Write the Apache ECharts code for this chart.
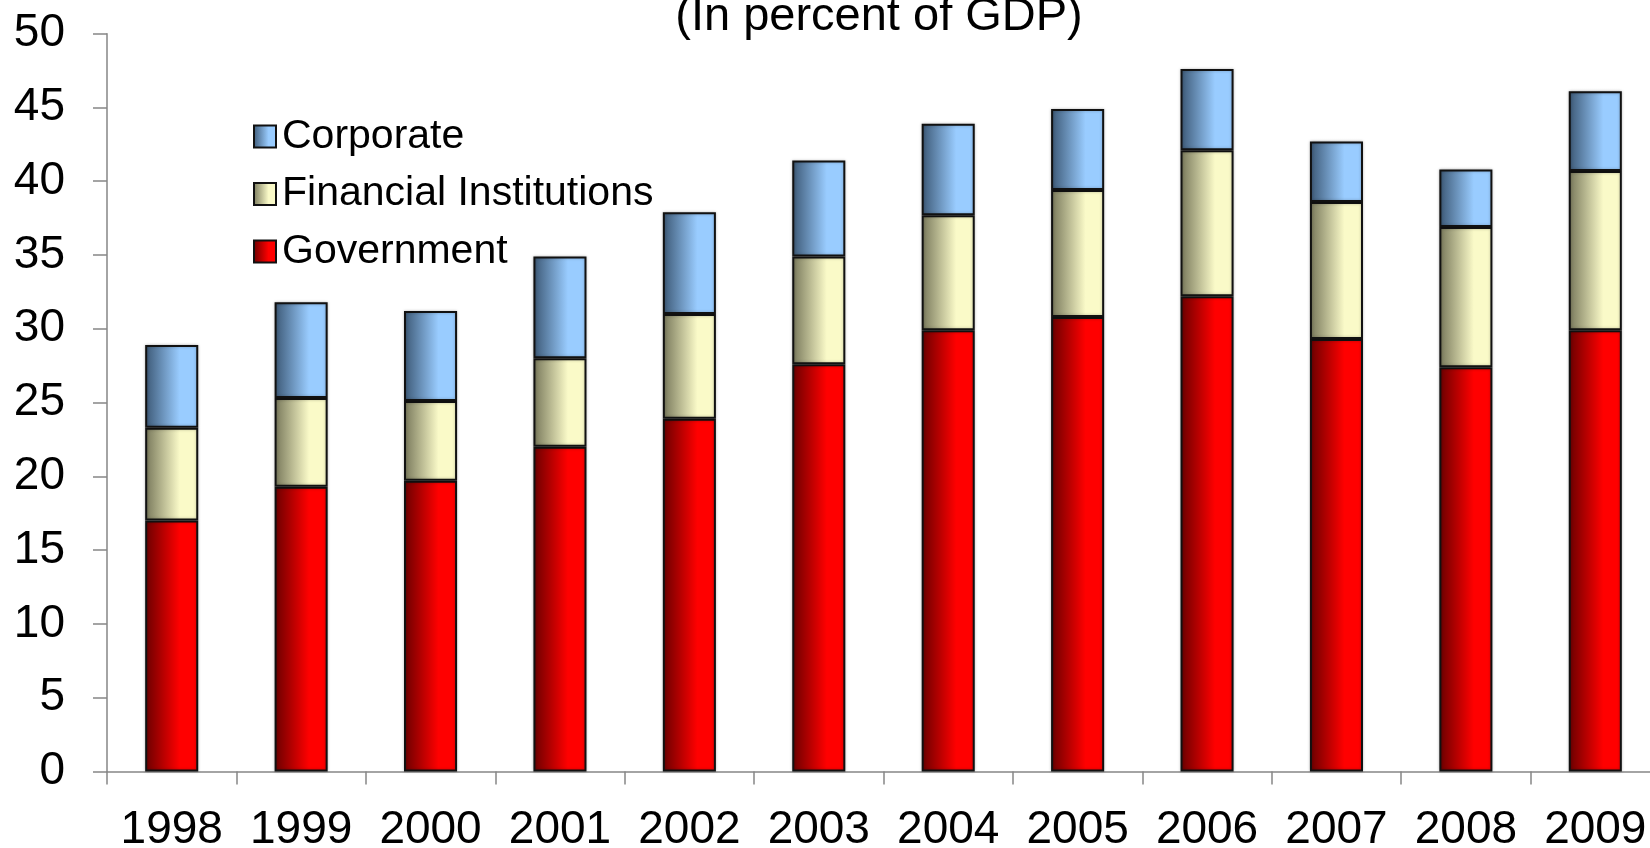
<!DOCTYPE html>
<html>
<head>
<meta charset="utf-8">
<title>Debt by sector (In percent of GDP)</title>
<script src="https://cdn.jsdelivr.net/npm/echarts@6/dist/echarts.min.js"></script>
<style>
  html, body { margin: 0; padding: 0; background: #ffffff; }
  #chart { width: 1650px; height: 848px; }
</style>
</head>
<body>
<div id="chart"></div>
<script>
// Years on the category axis
const years = ['1998', '1999', '2000', '2001', '2002', '2003', '2004', '2005', '2006', '2007', '2008', '2009'];

// Stacked components, percent of GDP
const government = [17.0, 19.3, 19.7, 22.0, 23.9, 27.6, 29.9, 30.8, 32.2, 29.3, 27.4, 29.9];
const financialInstitutions = [6.3, 6.0, 5.4, 6.0, 7.1, 7.3, 7.8, 8.6, 9.9, 9.3, 9.5, 10.8];
const corporate = [5.6, 6.5, 6.1, 6.9, 6.9, 6.5, 6.2, 5.5, 5.5, 4.1, 3.9, 5.4];

// Value axis ticks
const yMin = 0, yMax = 50, yStep = 5;

const FONT = '"Liberation Sans", Arial, sans-serif';

function shade(dark, light) {
  return new echarts.graphic.LinearGradient(0, 0, 1, 0, [
    { offset: 0, color: dark },
    { offset: 0.65, color: light },
    { offset: 1, color: light }
  ]);
}

function barSeries(name, values, dark, light) {
  return {
    name: name,
    type: 'bar',
    stack: 'total',
    data: values,
    barWidth: '41%',
    itemStyle: {
      color: shade(dark, light),
      borderColor: '#111111',
      borderWidth: 2,
      shadowColor: 'rgba(0,0,0,0.25)',
      shadowBlur: 3
    },
    emphasis: { disabled: true }
  };
}

const chart = echarts.init(document.getElementById('chart'), null, { renderer: 'canvas' });

chart.setOption({
  animation: false,
  backgroundColor: '#ffffff',
  textStyle: { fontFamily: FONT, color: '#000000' },
  grid: {
    left: 107, top: 33.7, width: 1553, height: 737.7,
    containLabel: false,
    outerBoundsMode: 'none'
  },
  graphic: [{
    type: 'text',
    x: 879,
    y: 17,
    style: {
      text: '(In percent of GDP)',
      fontFamily: FONT,
      fontSize: 47,
      fill: '#000000',
      align: 'center',
      verticalAlign: 'middle'
    }
  }],
  legend: {
    data: ['Corporate', 'Financial Institutions', 'Government'],
    orient: 'vertical',
    left: 248,
    top: 111,
    icon: 'rect',
    itemWidth: 22,
    itemHeight: 22,
    itemGap: 16.5,
    selectedMode: false,
    textStyle: { fontFamily: FONT, fontSize: 41, color: '#000000', padding: [0, 0, 0, 1] }
  },
  xAxis: {
    type: 'category',
    data: years,
    boundaryGap: true,
    axisLine: { show: true, lineStyle: { color: '#868686', width: 1.5 } },
    axisTick: { show: true, length: 13, lineStyle: { color: '#868686', width: 1.5 } },
    axisLabel: { interval: 0, fontFamily: FONT, fontSize: 46, color: '#000000', margin: 36, hideOverlap: false },
    splitLine: { show: false }
  },
  yAxis: {
    type: 'value',
    min: yMin,
    max: yMax,
    interval: yStep,
    axisLine: { show: true, lineStyle: { color: '#868686', width: 1.5 } },
    axisTick: { show: true, length: 14, lineStyle: { color: '#868686', width: 1.5 } },
    axisLabel: { fontFamily: FONT, fontSize: 46, color: '#000000', margin: 42 },
    splitLine: { show: false }
  },
  series: [
    barSeries('Government', government, '#6a0000', '#ff0000'),
    barSeries('Financial Institutions', financialInstitutions, '#77775a', '#fafac8'),
    barSeries('Corporate', corporate, '#3c5875', '#99ccff')
  ]
});
</script>
</body>
</html>
